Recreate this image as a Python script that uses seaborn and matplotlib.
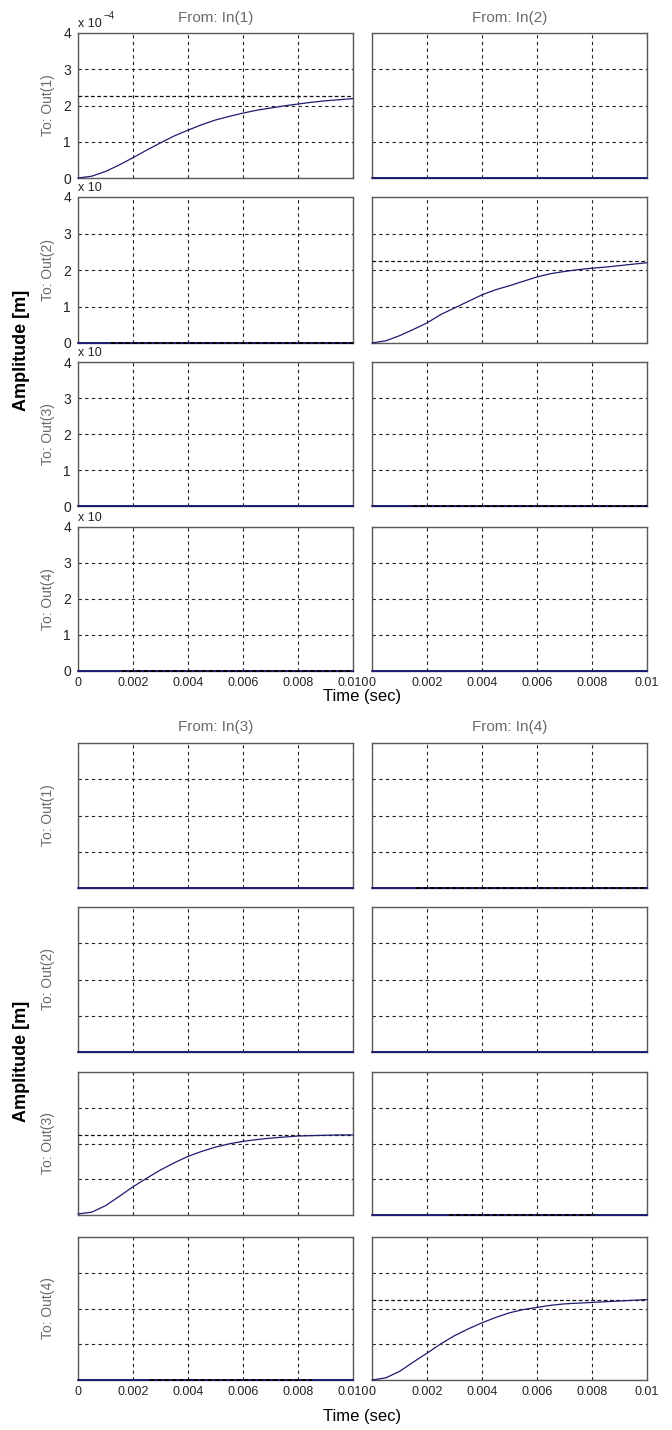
import matplotlib
matplotlib.use("Agg")
import matplotlib.pyplot as plt
import numpy as np
import pandas as pd
import seaborn as sns

# ---------------- data (amplitudes in units of 1e-4 m) ----------------
time_s = [0.0, 0.0005, 0.001, 0.0015, 0.002, 0.0025, 0.003, 0.0035, 0.004, 0.0045,
          0.005, 0.0055, 0.006, 0.0065, 0.007, 0.0075, 0.008, 0.0085, 0.009, 0.0095, 0.01]
resp_in1_out1 = [0.0, 0.05, 0.18, 0.36, 0.56, 0.77, 0.97, 1.16, 1.32, 1.47,
                 1.60, 1.70, 1.79, 1.87, 1.93, 1.99, 2.04, 2.09, 2.13, 2.16, 2.19]
resp_in2_out2 = [0.0, 0.06, 0.20, 0.37, 0.55, 0.78, 0.96, 1.14, 1.32, 1.46,
                 1.57, 1.69, 1.81, 1.90, 1.96, 2.01, 2.05, 2.08, 2.12, 2.16, 2.20]
resp_in3_out3 = [0.03, 0.08, 0.26, 0.52, 0.79, 1.03, 1.26, 1.46, 1.64, 1.78,
                 1.90, 1.99, 2.06, 2.11, 2.15, 2.18, 2.21, 2.22, 2.23, 2.24, 2.24]
resp_in4_out4 = [0.0, 0.06, 0.24, 0.50, 0.75, 1.01, 1.24, 1.43, 1.60, 1.75,
                 1.88, 1.97, 2.03, 2.09, 2.13, 2.15, 2.17, 2.19, 2.21, 2.23, 2.25]
final_value = 2.25

flat_time = [0.0, 0.01]
flat_resp = [0.0, 0.0]

# dashed final-value marks on near-zero channels: (input, output) -> (start, end) [s]
ss_marks = {
    (1, 2): (0.0012, 0.01),
    (1, 4): (0.0016, 0.01),
    (2, 3): (0.0015, 0.01),
    (3, 4): (0.0026, 0.0085),
    (4, 1): (0.0016, 0.01),
    (4, 3): (0.0028, 0.0081),
}

x_ticks = [0.0, 0.002, 0.004, 0.006, 0.008, 0.010]
x_labels_left = ["0", "0.002", "0.004", "0.006", "0.008", "0.010"]
x_labels_right = ["0", "0.002", "0.004", "0.006", "0.008", "0.01"]
y_ticks = [0, 1, 2, 3, 4]
y_labels = ["0", "1", "2", "3", "4"]

diag = {1: resp_in1_out1, 2: resp_in2_out2, 3: resp_in3_out3, 4: resp_in4_out4}

# ---------------- style ----------------
sns.set_style("white")
plt.rcParams["font.family"] = ["Liberation Sans", "DejaVu Sans"]

W, H = 672, 1430
fig = plt.figure(figsize=(W / 100, H / 100), dpi=100)

LINE = "#1c1c6e"
GRAY_TXT = "#6a6a6a"
SPINE = "#5a5a5a"

col_x = [(78, 353), (372, 647)]
blocks = [
    dict(inputs=(1, 2), rows=[(33, 178), (197, 343), (362, 506), (527, 671)],
         ylabels=True, title_y=18, xlabel_y=697, amp_y=350),
    dict(inputs=(3, 4), rows=[(743, 888), (907, 1052), (1072, 1215), (1237, 1380)],
         ylabels=False, title_y=727, xlabel_y=1416, amp_y=1061),
]


def fx(x):
    return x / W


def fy(y):
    return 1 - y / H


for blk in blocks:
    for c, inp in enumerate(blk["inputs"]):
        x0, x1 = col_x[c]
        fig.text(fx((x0 + x1) / 2), fy(blk["title_y"]), f"From: In({inp})",
                 ha="center", va="center", fontsize=11, color=GRAY_TXT)
        for r, (y0, y1) in enumerate(blk["rows"]):
            out = r + 1
            ax = fig.add_axes([fx(x0), fy(y1), (x1 - x0) / W, (y1 - y0) / H])
            ax.set_facecolor("white")
            if inp == out:
                df = pd.DataFrame({"t": time_s, "y": diag[inp]})
                ax.axhline(final_value, color="#111111", lw=0.9, ls=(0, (3, 2)), zorder=3)
                sns.lineplot(data=df, x="t", y="y", ax=ax, color=LINE, lw=0.9,
                             zorder=4, clip_on=False)
            else:
                df = pd.DataFrame({"t": flat_time, "y": flat_resp})
                sns.lineplot(data=df, x="t", y="y", ax=ax, color=LINE, lw=1.4,
                             zorder=4, clip_on=False)
                if (inp, out) in ss_marks:
                    s, e = ss_marks[(inp, out)]
                    ax.hlines(0, s, e, color="#000000", lw=1.3, ls=(0, (2.5, 1.5)),
                              zorder=5, clip_on=False)
            ax.set_xlim(0, 0.01)
            ax.set_ylim(0, 4)
            ax.set_xticks(x_ticks)
            ax.set_yticks(y_ticks)
            ax.grid(True, color="#222222", lw=0.8, ls=(0, (3, 3)))
            ax.set_axisbelow(True)
            ax.tick_params(length=0, labelsize=9, colors="#222222", pad=4)
            ax.set_xlabel("")
            ax.set_ylabel("")
            for sp in ax.spines.values():
                sp.set_color(SPINE)
                sp.set_linewidth(1.0)
            if r == 3:
                ax.set_xticklabels(x_labels_left if c == 0 else x_labels_right)
            else:
                ax.set_xticklabels([])
            if c == 0 and blk["ylabels"]:
                ax.set_yticklabels(y_labels, fontsize=10)
                ax.tick_params(axis="y", pad=5)
                fig.text(fx(x0), fy(y0 - 9), "x 10", ha="left", va="center",
                         fontsize=9, color="#222222")
                if r == 0:
                    fig.text(fx(x0 + 26), fy(y0 - 17), "\u22124", ha="left", va="center",
                             fontsize=7, color="#222222")
            else:
                ax.set_yticklabels([])
            if c == 0:
                fig.text(fx(48), fy((y0 + y1) / 2), f"To: Out({out})", rotation=90,
                         ha="center", va="center", fontsize=10, color=GRAY_TXT)
    fig.text(fx(362), fy(blk["xlabel_y"]), "Time (sec)", ha="center", va="center",
             fontsize=12, color="black")
    fig.text(fx(22), fy(blk["amp_y"]), "Amplitude [m]", rotation=90, ha="center",
             va="center", fontsize=13, fontweight="bold", color="black")

fig.savefig("out.png", dpi=100, facecolor="white")
